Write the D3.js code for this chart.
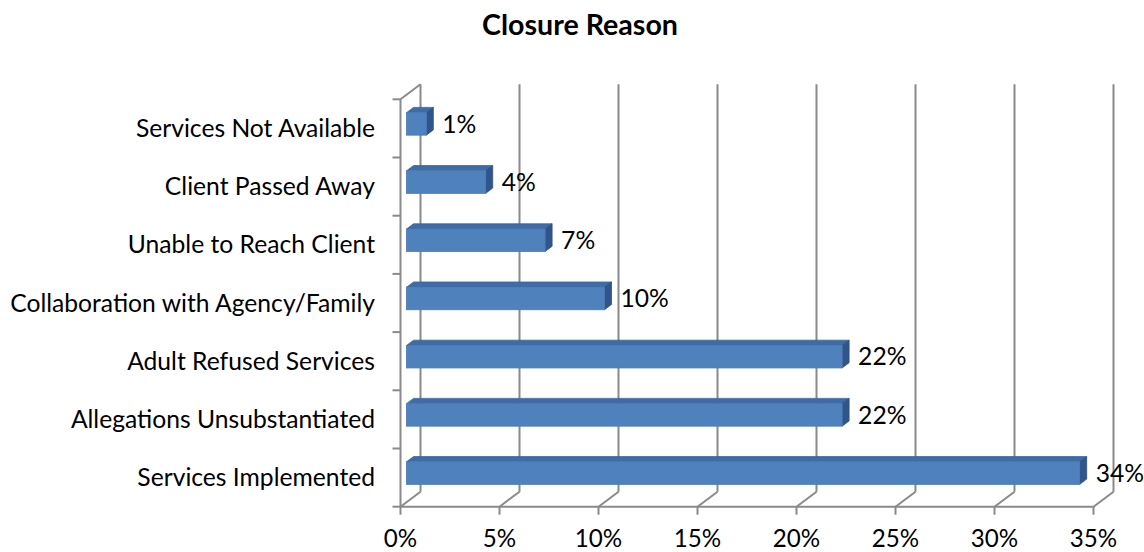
<!DOCTYPE html>
<html><head><meta charset="utf-8">
<script src="https://cdn.jsdelivr.net/npm/d3@7/dist/d3.min.js"></script>
<style>html,body{margin:0;padding:0;background:#fff;}svg{display:block;}</style>
</head><body>
<svg id="chart" width="1144" height="552"></svg>
<script>
const categories = ["Services Not Available","Client Passed Away","Unable to Reach Client","Collaboration with Agency/Family","Adult Refused Services","Allegations Unsubstantiated","Services Implemented"];
const values = [1, 4, 7, 10, 22, 22, 34];
const xTicks = [0, 5, 10, 15, 20, 25, 30, 35];
const title = "Closure Reason";

const svg = d3.select("#chart");
const FONT = "Lato, 'Open Sans', sans-serif";

// front plane geometry
const x0 = 400.5, plotW = 693, yTop = 99.3, yBot = 506.7;
const DX = 20, DY = -15; // depth offset (front -> back)
const x = d3.scaleLinear().domain([0, 35]).range([x0, x0 + plotW]);
const y = d3.scaleBand().domain(categories).range([yTop, yBot]).padding(0);
const P = (sx, sy, d) => [sx + DX * d, sy + DY * d];

const gridColor = "#8a8a8a";
const g = svg.append("g");

// back wall vertical gridlines and floor diagonals
xTicks.forEach(t => {
  const byB = yBot + DY;
  const bxTop = x(t) + DX, topY = yTop + DY;
  g.append("line").attr("x1", bxTop).attr("x2", bxTop).attr("y1", topY).attr("y2", byB)
    .attr("stroke", gridColor).attr("stroke-width", 2);
  g.append("line").attr("x1", bxTop).attr("y1", byB).attr("x2", x(t)).attr("y2", yBot)
    .attr("stroke", gridColor).attr("stroke-width", 2);
});
// left wall front edge and top diagonal
g.append("line").attr("x1", x0).attr("x2", x0).attr("y1", yTop).attr("y2", yBot)
  .attr("stroke", gridColor).attr("stroke-width", 2);
g.append("line").attr("x1", x0).attr("y1", yTop).attr("x2", x0 + DX).attr("y2", yTop + DY)
  .attr("stroke", gridColor).attr("stroke-width", 2);
// floor front edge
g.append("line").attr("x1", x0).attr("x2", x(35)).attr("y1", yBot).attr("y2", yBot)
  .attr("stroke", gridColor).attr("stroke-width", 2);

// left ticks at category boundaries
const bounds = categories.map(c => y(c)).concat([yBot]);
bounds.forEach(b => {
  g.append("line").attr("x1", x0 - 8).attr("x2", x0).attr("y1", b).attr("y2", b)
    .attr("stroke", gridColor).attr("stroke-width", 2);
});
// bottom ticks
xTicks.forEach(t => {
  g.append("line").attr("x1", x(t)).attr("x2", x(t)).attr("y1", yBot).attr("y2", yBot + 8)
    .attr("stroke", gridColor).attr("stroke-width", 2);
});

// category labels (fit size first)
const labG = svg.append("g");
categories.forEach(c => {
  labG.append("text").attr("x", 375).attr("y", y(c) + y.bandwidth() / 2).attr("dy", "0.35em")
    .attr("text-anchor", "end").attr("font-family", FONT).attr("font-size", 21).attr("fill", "#000")
    .text(c);
});
const longest = labG.selectAll("text").nodes().reduce((a, n) => Math.max(a, n.getComputedTextLength()), 0);
const fs = 21 * 365 / longest;
labG.selectAll("text").attr("font-size", fs);

// bars
const dF = 0.3, dB = 0.65;
const barFrac = 0.387;
const bh = y.bandwidth() * barFrac;
const bars = svg.append("g");
categories.forEach((c, i) => {
  const v = values[i];
  const cy = y(c) + y.bandwidth() / 2;
  const t = cy - bh / 2, b = cy + bh / 2;
  const xs = x(0), xe = x(v);
  const f = (px, py, d) => P(px, py, d).join(",");
  bars.append("polygon")
    .attr("points", [f(xs, t, dF), f(xe, t, dF), f(xe, t, dB), f(xs, t, dB)].join(" "))
    .attr("fill", "#3f6ca5").attr("stroke", "#3a65a0").attr("stroke-width", 0.8);
  bars.append("polygon")
    .attr("points", [f(xe, t, dF), f(xe, t, dB), f(xe, b, dB), f(xe, b, dF)].join(" "))
    .attr("fill", "#30558a").attr("stroke", "#2d5184").attr("stroke-width", 0.8);
  const [fx, fy] = P(xs, t, dF);
  const [ex] = P(xe, t, dF);
  bars.append("rect").attr("x", fx).attr("y", fy).attr("width", ex - fx).attr("height", bh)
    .attr("fill", "#4f81bd").attr("stroke", "#4a7bb6").attr("stroke-width", 0.8);
  const [lx] = P(xe, t, dB);
  const [, ly] = P(xe, cy, dF);
  svg.append("text").attr("x", lx + 9).attr("y", ly).attr("dy", "0.35em")
    .attr("font-family", FONT).attr("font-size", fs).attr("fill", "#000")
    .text(v + "%");
});

// x tick labels
xTicks.forEach(t => {
  svg.append("text").attr("x", x(t)).attr("y", 546.5)
    .attr("text-anchor", "middle").attr("font-family", FONT).attr("font-size", fs * 0.98).attr("fill", "#000")
    .text(t + "%");
});

// title (fit to reference width)
const tt = svg.append("text").attr("x", 580).attr("y", 25).attr("dy", "0.35em").attr("text-anchor", "middle")
  .attr("font-family", FONT).attr("font-weight", "bold").attr("font-size", 23).attr("fill", "#000")
  .text(title);
tt.attr("font-size", 23 * 196 / tt.node().getComputedTextLength());
</script>
</body></html>
